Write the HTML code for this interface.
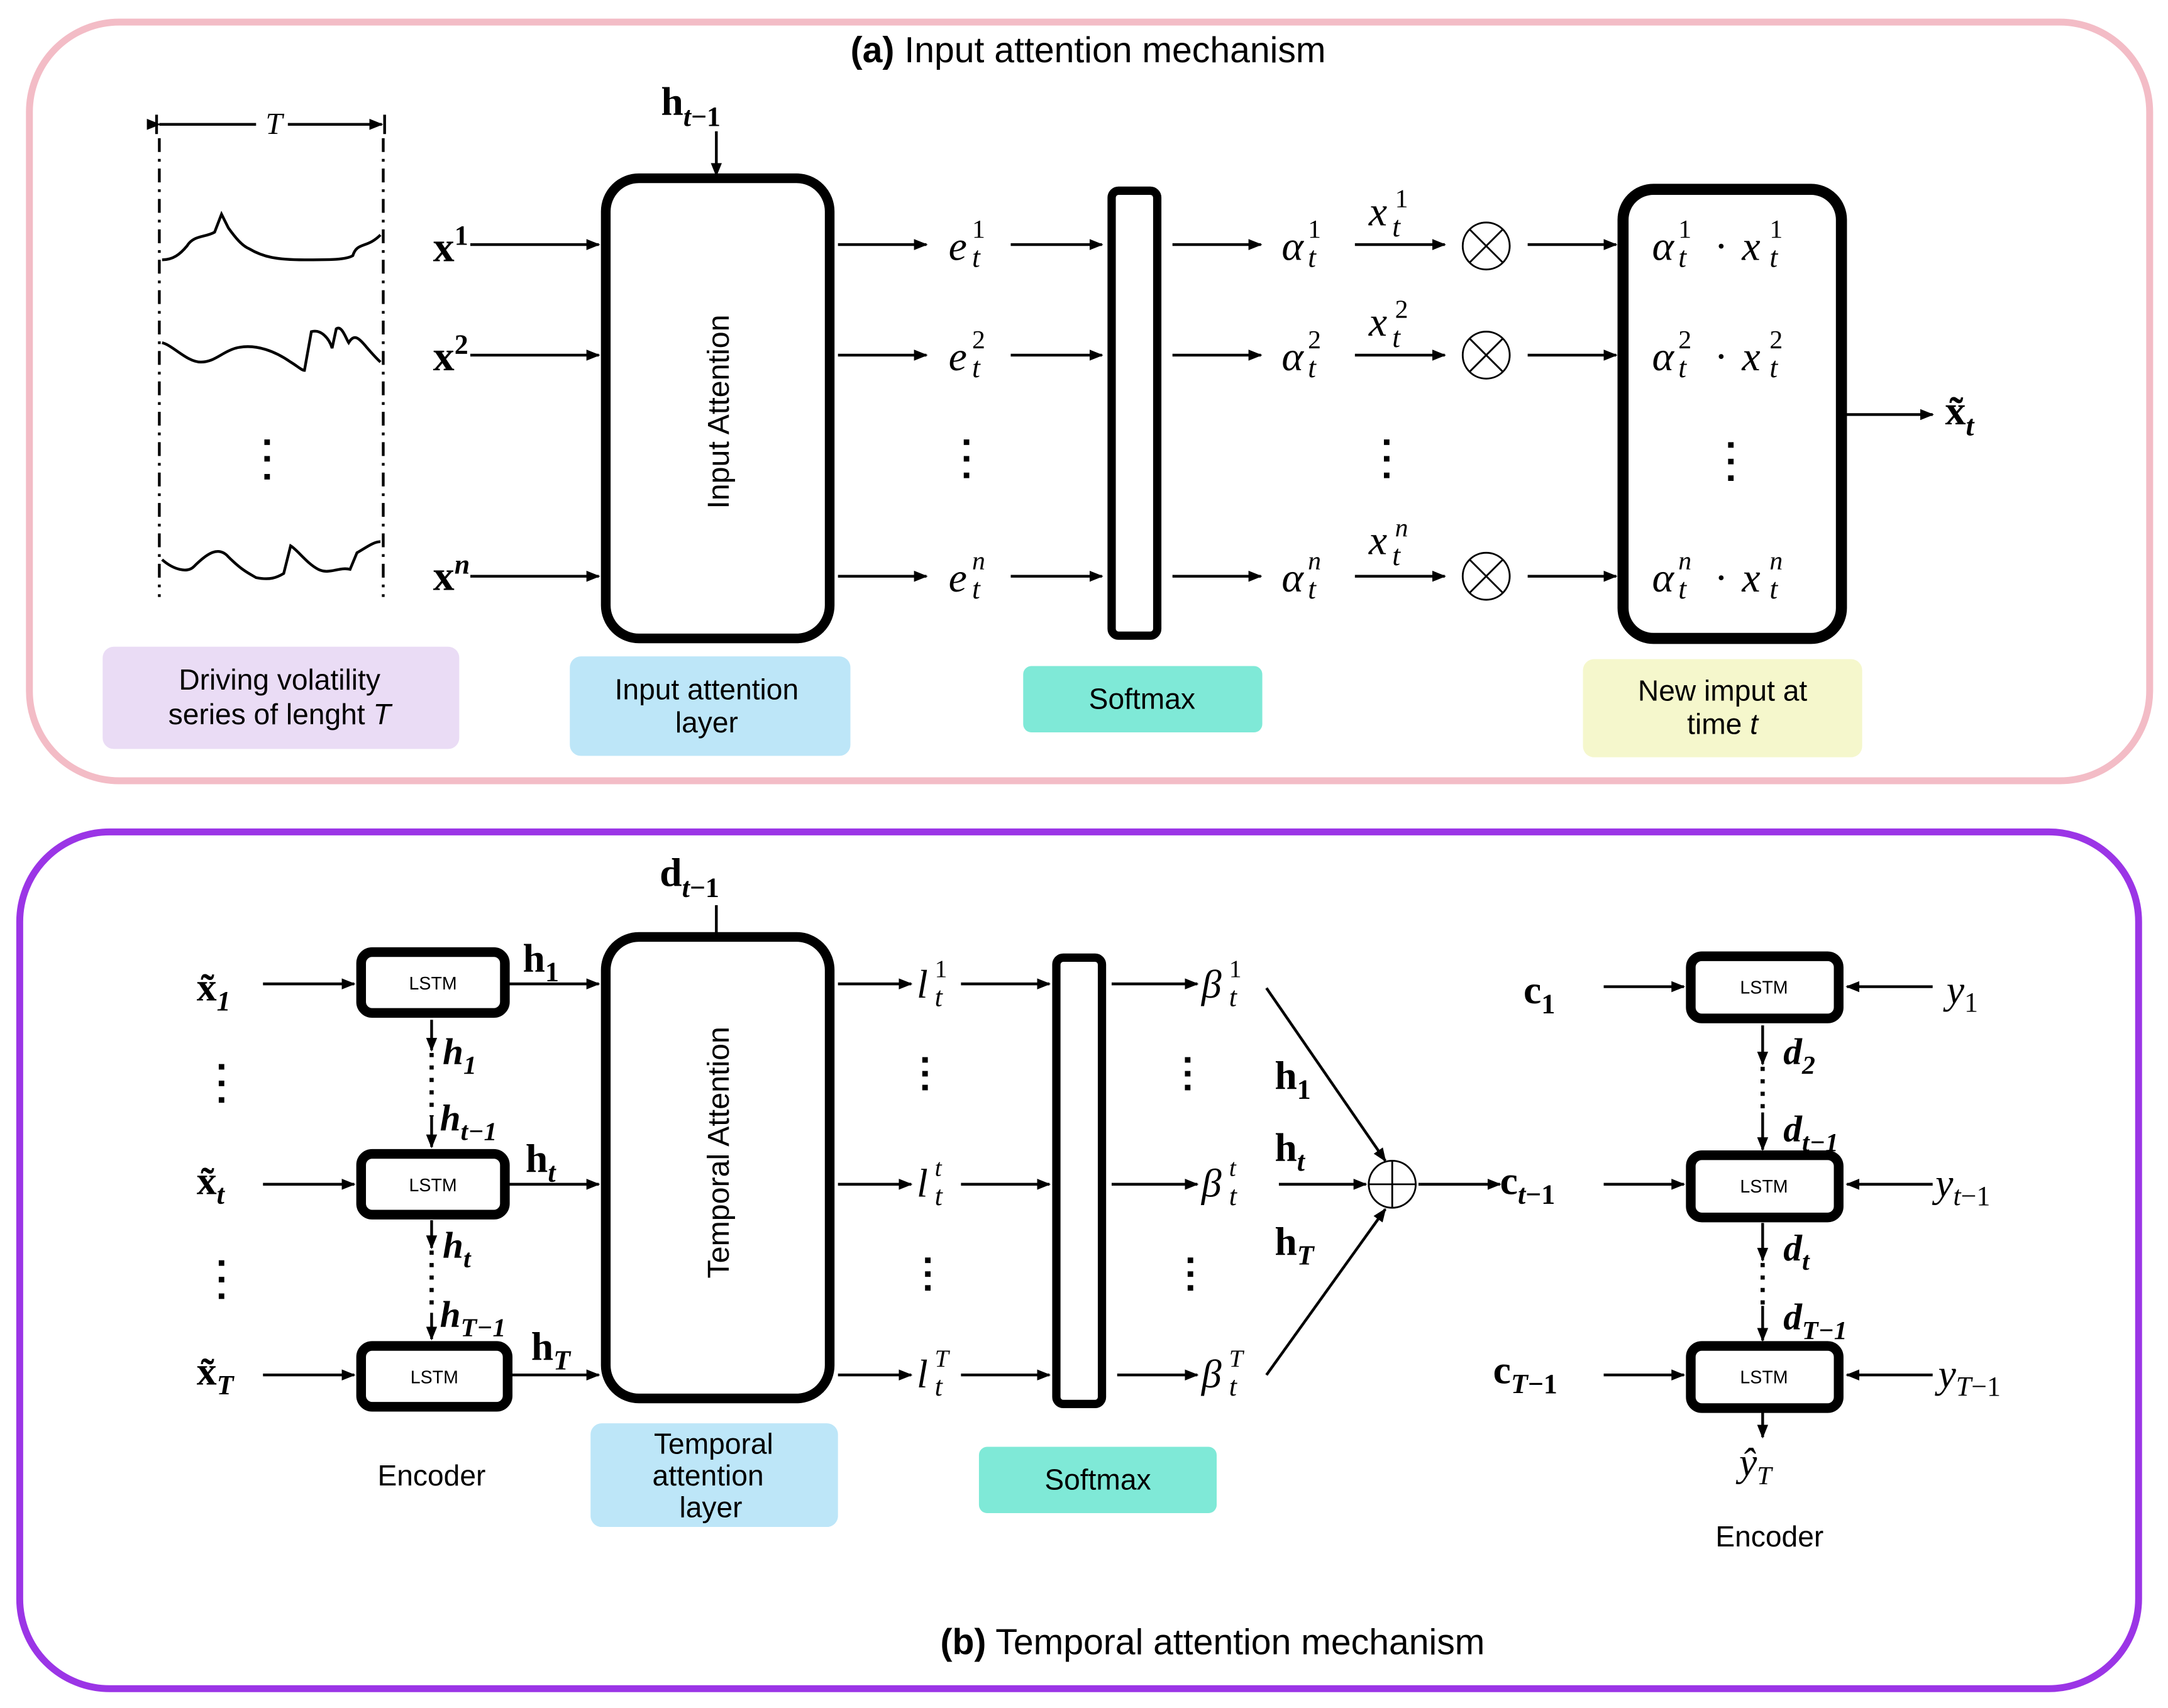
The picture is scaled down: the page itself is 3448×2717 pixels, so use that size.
<!DOCTYPE html>
<html><head><meta charset="utf-8"><style>
html,body{margin:0;padding:0;background:#fff}
svg{display:block}
.s{font-family:"Liberation Sans",sans-serif}
.m{font-family:"Liberation Serif",serif;font-style:italic}
.b{font-family:"Liberation Serif",serif;font-weight:bold}
</style></head><body>
<svg width="3448" height="2717" viewBox="0 0 1568 1236" xmlns="http://www.w3.org/2000/svg">
<defs>
<marker id="a" viewBox="0 0 10 10" refX="9" refY="5" markerWidth="5" markerHeight="5" orient="auto"><path d="M0,1 L10,5 L0,9 z" fill="#000"/></marker>
</defs>
<rect width="1568" height="1236" fill="#fff"/>
<!-- Panel a -->
<rect x="21" y="16" width="1534" height="549" rx="65" fill="#fff" stroke="#f3bcc6" stroke-width="5"/>
<text x="787" y="45" text-anchor="middle" class="s" font-size="26"><tspan font-weight="bold">(a)</tspan> Input attention mechanism</text>

<g stroke="#000" fill="none" stroke-width="2">
<line x1="115" y1="90" x2="185" y2="90" marker-start="url(#a)"/>
<line x1="208" y1="90" x2="276" y2="90" marker-end="url(#a)"/>
<line x1="113" y1="83" x2="113" y2="97"/><line x1="278" y1="83" x2="278" y2="97"/>
<line x1="115" y1="100" x2="115" y2="432" stroke-dasharray="10,5,2,5"/>
<line x1="277" y1="100" x2="277" y2="432" stroke-dasharray="10,5,2,5"/>
<path d="M117,188 C125,188 130,184 135,178 C140,170 148,172 155,168 L160,155 L165,165 C170,172 175,178 180,180 C190,186 200,188 220,188 C240,188 250,188 255,185 C258,175 265,180 275,170"/>
<path d="M117,248 C125,250 135,262 145,262 C155,262 160,255 170,252 C185,248 200,255 210,262 C215,265 218,268 220,268 L225,240 C232,238 238,245 240,252 L243,238 C247,235 250,245 252,248 C258,238 262,250 275,262"/>
<path d="M117,405 C125,412 135,415 140,410 C150,400 158,395 165,403 C175,413 180,415 185,418 C195,420 200,418 205,415 L210,395 C215,398 222,408 230,412 C238,416 245,410 253,412 L258,400 C265,396 270,392 275,392"/>
</g>
<text x="198" y="97" class="m" font-size="22" text-anchor="middle">T</text>
<g fill="#000"><rect x="191" y="318" width="4" height="4"/><rect x="191" y="330" width="4" height="4"/><rect x="191" y="343" width="4" height="4"/></g>

<text x="313" y="189" class="b" font-size="31">x<tspan dy="-12" font-size="20">1</tspan></text>
<text x="313" y="268" class="b" font-size="31">x<tspan dy="-12" font-size="20">2</tspan></text>
<text x="313" y="427" class="b" font-size="31">x<tspan dy="-12" font-size="20" font-style="italic">n</tspan></text>
<g stroke="#000" stroke-width="2" marker-end="url(#a)">
<line x1="340" y1="177" x2="433" y2="177"/><line x1="340" y1="257" x2="433" y2="257"/><line x1="340" y1="417" x2="433" y2="417"/>
<line x1="518" y1="95" x2="518" y2="127"/>
</g>
<text x="478" y="83" class="b" font-size="29">h<tspan dy="8" font-size="20" font-style="italic">t</tspan><tspan font-size="20">−1</tspan></text>
<rect x="438" y="129" width="162" height="333" rx="24" fill="#fff" stroke="#000" stroke-width="7"/>
<text transform="translate(527,298) rotate(-90)" text-anchor="middle" class="s" font-size="22">Input Attention</text>
<rect x="804" y="138" width="33" height="322" rx="5" fill="#fff" stroke="#000" stroke-width="6"/>
<rect x="1174" y="137" width="158" height="325" rx="22" fill="#fff" stroke="#000" stroke-width="8"/>

<g stroke="#000" stroke-width="2" marker-end="url(#a)">
<line x1="606" y1="177" x2="670" y2="177"/><line x1="606" y1="257" x2="670" y2="257"/><line x1="606" y1="417" x2="670" y2="417"/>
<line x1="731" y1="177" x2="797" y2="177"/><line x1="731" y1="257" x2="797" y2="257"/><line x1="731" y1="417" x2="797" y2="417"/>
<line x1="848" y1="177" x2="912" y2="177"/><line x1="848" y1="257" x2="912" y2="257"/><line x1="848" y1="417" x2="912" y2="417"/>
<line x1="980" y1="177" x2="1045" y2="177"/><line x1="980" y1="257" x2="1045" y2="257"/><line x1="980" y1="417" x2="1045" y2="417"/>
<line x1="1105" y1="177" x2="1169" y2="177"/><line x1="1105" y1="257" x2="1169" y2="257"/><line x1="1105" y1="417" x2="1169" y2="417"/>
<line x1="1335" y1="300" x2="1398" y2="300"/>
</g>
<g class="m" font-size="30">
<text x="686" y="188">e</text><text x="703" y="172" font-size="19" font-style="normal">1</text><text x="703" y="193" font-size="21">t</text>
<text x="686" y="268">e</text><text x="703" y="252" font-size="19" font-style="normal">2</text><text x="703" y="273" font-size="21">t</text>
<text x="686" y="428">e</text><text x="703" y="412" font-size="19">n</text><text x="703" y="433" font-size="21">t</text>
<text x="927" y="188">α</text><text x="946" y="172" font-size="19" font-style="normal">1</text><text x="946" y="193" font-size="21">t</text>
<text x="927" y="268">α</text><text x="946" y="252" font-size="19" font-style="normal">2</text><text x="946" y="273" font-size="21">t</text>
<text x="927" y="428">α</text><text x="946" y="412" font-size="19">n</text><text x="946" y="433" font-size="21">t</text>
<text x="990" y="163">x</text><text x="1009" y="150" font-size="19" font-style="normal">1</text><text x="1007" y="171" font-size="21">t</text>
<text x="990" y="243">x</text><text x="1009" y="230" font-size="19" font-style="normal">2</text><text x="1007" y="251" font-size="21">t</text>
<text x="990" y="401">x</text><text x="1009" y="388" font-size="19">n</text><text x="1007" y="409" font-size="21">t</text>
<text x="1195" y="188">α</text><text x="1214" y="172" font-size="19" font-style="normal">1</text><text x="1214" y="193" font-size="21">t</text><text x="1240" y="188" font-style="normal">·</text><text x="1260" y="188">x</text><text x="1280" y="172" font-size="19" font-style="normal">1</text><text x="1280" y="193" font-size="21">t</text>
<text x="1195" y="268">α</text><text x="1214" y="252" font-size="19" font-style="normal">2</text><text x="1214" y="273" font-size="21">t</text><text x="1240" y="268" font-style="normal">·</text><text x="1260" y="268">x</text><text x="1280" y="252" font-size="19" font-style="normal">2</text><text x="1280" y="273" font-size="21">t</text>
<text x="1195" y="428">α</text><text x="1214" y="412" font-size="19">n</text><text x="1214" y="433" font-size="21">t</text><text x="1240" y="428" font-style="normal">·</text><text x="1260" y="428">x</text><text x="1280" y="412" font-size="19">n</text><text x="1280" y="433" font-size="21">t</text>
</g>
<text x="1407" y="307" class="b" font-size="30">x̃<tspan dy="8" font-size="21" font-style="italic">t</tspan></text>
<g fill="none" stroke="#000" stroke-width="1.3">
<circle cx="1075" cy="178" r="17"/><path d="M1063,166 L1087,190 M1087,166 L1063,190"/>
<circle cx="1075" cy="257" r="17"/><path d="M1063,245 L1087,269 M1087,245 L1063,269"/>
<circle cx="1075" cy="417" r="17"/><path d="M1063,405 L1087,429 M1087,405 L1063,429"/>
</g>
<g fill="#000">
<rect x="697" y="318" width="4" height="4"/><rect x="697" y="330" width="4" height="4"/><rect x="697" y="342" width="4" height="4"/>
<rect x="1001" y="318" width="4" height="4"/><rect x="1001" y="330" width="4" height="4"/><rect x="1001" y="342" width="4" height="4"/>
<rect x="1250" y="320" width="4" height="4"/><rect x="1250" y="332" width="4" height="4"/><rect x="1250" y="344" width="4" height="4"/>
</g>
<g class="s" font-size="21" text-anchor="middle">
<rect x="74" y="468" width="258" height="74" rx="8" fill="#eadcf5"/>
<text x="202" y="499">Driving volatility</text><text x="202" y="524">series of lenght <tspan font-style="italic">T</tspan></text>
<rect x="412" y="475" width="203" height="72" rx="8" fill="#bde6f8"/>
<text x="511" y="506">Input attention</text><text x="511" y="530">layer</text>
<rect x="740" y="482" width="173" height="48" rx="6" fill="#7fe9d7"/>
<text x="826" y="513">Softmax</text>
<rect x="1145" y="477" width="202" height="71" rx="8" fill="#f5f7cc"/>
<text x="1246" y="507">New imput at</text><text x="1246" y="531">time <tspan font-style="italic">t</tspan></text>
</g>

<!-- Panel b -->
<rect x="14" y="602" width="1533" height="620" rx="65" fill="#fff" stroke="#9b35e6" stroke-width="5"/>
<text x="877" y="1197" text-anchor="middle" class="s" font-size="26"><tspan font-weight="bold">(b)</tspan> Temporal attention mechanism</text>

<g class="b" font-size="29">
<text x="142" y="724">x̃<tspan dy="7" font-size="20" font-style="italic">1</tspan></text>
<text x="142" y="864">x̃<tspan dy="7" font-size="20" font-style="italic">t</tspan></text>
<text x="142" y="1002">x̃<tspan dy="7" font-size="20" font-style="italic">T</tspan></text>
<text x="378" y="703">h<tspan dy="7" font-size="20">1</tspan></text>
<text x="380" y="848">h<tspan dy="7" font-size="20" font-style="italic">t</tspan></text>
<text x="384" y="984">h<tspan dy="7" font-size="20" font-style="italic">T</tspan></text>
<text x="477" y="641">d<tspan dy="8" font-size="20" font-style="italic">t</tspan><tspan font-size="20">−1</tspan></text>
<text x="922" y="788">h<tspan dy="7" font-size="20">1</tspan></text>
<text x="922" y="840">h<tspan dy="7" font-size="20" font-style="italic">t</tspan></text>
<text x="922" y="908">h<tspan dy="7" font-size="20" font-style="italic">T</tspan></text>
<text x="1102" y="726">c<tspan dy="7" font-size="20">1</tspan></text>
<text x="1085" y="864">c<tspan dy="7" font-size="20" font-style="italic">t</tspan><tspan font-size="20">−1</tspan></text>
<text x="1080" y="1001">c<tspan dy="7" font-size="20" font-style="italic">T</tspan><tspan font-size="20">−1</tspan></text>
</g>
<g class="m" font-size="27" font-weight="bold">
<text x="320" y="770">h<tspan dy="7" font-size="19">1</tspan></text>
<text x="318" y="818">h<tspan dy="7" font-size="19">t−1</tspan></text>
<text x="320" y="910">h<tspan dy="7" font-size="19">t</tspan></text>
<text x="318" y="960">h<tspan dy="7" font-size="19">T−1</tspan></text>
<text x="1290" y="770">d<tspan dy="7" font-size="19">2</tspan></text>
<text x="1290" y="826">d<tspan dy="7" font-size="19">t−1</tspan></text>
<text x="1290" y="912">d<tspan dy="7" font-size="19">t</tspan></text>
<text x="1290" y="962">d<tspan dy="7" font-size="19">T−1</tspan></text>
</g>
<g class="m" font-size="29">
<text x="663" y="722">l</text><text x="676" y="707" font-size="18" font-style="normal">1</text><text x="676" y="728" font-size="20">t</text>
<text x="663" y="866">l</text><text x="676" y="851" font-size="18">t</text><text x="676" y="872" font-size="20">t</text>
<text x="663" y="1004">l</text><text x="676" y="989" font-size="18">T</text><text x="676" y="1010" font-size="20">t</text>
<text x="869" y="722">β</text><text x="889" y="707" font-size="18" font-style="normal">1</text><text x="889" y="728" font-size="20">t</text>
<text x="869" y="866">β</text><text x="889" y="851" font-size="18">t</text><text x="889" y="872" font-size="20">t</text>
<text x="869" y="1004">β</text><text x="889" y="989" font-size="18">T</text><text x="889" y="1010" font-size="20">t</text>
<text x="1408" y="726">y<tspan dy="6" font-size="20" font-style="normal">1</tspan></text>
<text x="1400" y="866">y<tspan dy="6" font-size="20">t</tspan><tspan font-size="20" font-style="normal">−1</tspan></text>
<text x="1402" y="1004">y<tspan dy="6" font-size="20">T</tspan><tspan font-size="20" font-style="normal">−1</tspan></text>
<text x="1258" y="1068">ŷ<tspan dy="6" font-size="19">T</tspan></text>
</g>

<g stroke="#000" stroke-width="2" marker-end="url(#a)">
<line x1="190" y1="712" x2="256" y2="712"/><line x1="190" y1="857" x2="256" y2="857"/><line x1="190" y1="995" x2="256" y2="995"/>
<line x1="368" y1="712" x2="433" y2="712"/><line x1="368" y1="857" x2="433" y2="857"/><line x1="368" y1="995" x2="433" y2="995"/>
<line x1="606" y1="712" x2="659" y2="712"/><line x1="606" y1="857" x2="659" y2="857"/><line x1="606" y1="995" x2="659" y2="995"/>
<line x1="695" y1="712" x2="759" y2="712"/><line x1="695" y1="857" x2="759" y2="857"/><line x1="695" y1="995" x2="759" y2="995"/>
<line x1="804" y1="712" x2="866" y2="712"/><line x1="804" y1="857" x2="866" y2="857"/><line x1="808" y1="995" x2="866" y2="995"/>
<line x1="916" y1="715" x2="1002" y2="840"/><line x1="916" y1="995" x2="1002" y2="875"/><line x1="925" y1="857" x2="988" y2="857"/>
<line x1="1026" y1="857" x2="1085" y2="857"/>
<line x1="1160" y1="714" x2="1218" y2="714"/><line x1="1160" y1="857" x2="1218" y2="857"/><line x1="1160" y1="995" x2="1218" y2="995"/>
<line x1="1398" y1="714" x2="1336" y2="714"/><line x1="1398" y1="857" x2="1336" y2="857"/><line x1="1398" y1="995" x2="1336" y2="995"/>
<line x1="312" y1="738" x2="312" y2="760"/><line x1="312" y1="808" x2="312" y2="830"/>
<line x1="312" y1="883" x2="312" y2="903"/><line x1="312" y1="950" x2="312" y2="969"/>
<line x1="1275" y1="742" x2="1275" y2="770"/><line x1="1275" y1="805" x2="1275" y2="832"/>
<line x1="1275" y1="885" x2="1275" y2="912"/><line x1="1275" y1="945" x2="1275" y2="970"/>
<line x1="1275" y1="1021" x2="1275" y2="1040"/>
<line x1="518" y1="655" x2="518" y2="676" marker-end="none"/>
</g>
<g stroke="#000" stroke-width="3" stroke-dasharray="3,6">
<line x1="312" y1="762" x2="312" y2="808"/><line x1="312" y1="905" x2="312" y2="950"/>
<line x1="1275" y1="772" x2="1275" y2="805"/><line x1="1275" y1="914" x2="1275" y2="945"/>
</g>
<rect x="438" y="678" width="162" height="334" rx="24" fill="#fff" stroke="#000" stroke-width="7"/>
<text transform="translate(527,834) rotate(-90)" text-anchor="middle" class="s" font-size="22">Temporal Attention</text>
<rect x="764" y="693" width="33" height="323" rx="5" fill="#fff" stroke="#000" stroke-width="6"/>
<g fill="#fff" stroke="#000" stroke-width="7">
<rect x="261" y="689" width="104" height="44" rx="8"/><rect x="261" y="835" width="104" height="44" rx="8"/><rect x="261" y="974" width="106" height="44" rx="8"/>
<rect x="1223" y="692" width="107" height="45" rx="8"/><rect x="1223" y="836" width="107" height="45" rx="8"/><rect x="1223" y="974" width="107" height="45" rx="8"/>
</g>
<g class="s" font-size="13" text-anchor="middle">
<text x="313" y="716">LSTM</text><text x="313" y="862">LSTM</text><text x="314" y="1001">LSTM</text>
<text x="1276" y="719">LSTM</text><text x="1276" y="863">LSTM</text><text x="1276" y="1001">LSTM</text>
</g>
<g fill="none" stroke="#000" stroke-width="1.3">
<circle cx="1007" cy="857" r="17"/><path d="M990,857 L1024,857 M1007,840 L1007,874"/>
</g>
<g fill="#000">
<rect x="158" y="770" width="4" height="4"/><rect x="158" y="782" width="4" height="4"/><rect x="158" y="794" width="4" height="4"/>
<rect x="158" y="912" width="4" height="4"/><rect x="158" y="924" width="4" height="4"/><rect x="158" y="936" width="4" height="4"/>
<rect x="667" y="765" width="4" height="4"/><rect x="667" y="775" width="4" height="4"/><rect x="667" y="785" width="4" height="4"/>
<rect x="669" y="910" width="4" height="4"/><rect x="669" y="920" width="4" height="4"/><rect x="669" y="930" width="4" height="4"/>
<rect x="857" y="765" width="4" height="4"/><rect x="857" y="775" width="4" height="4"/><rect x="857" y="785" width="4" height="4"/>
<rect x="859" y="910" width="4" height="4"/><rect x="859" y="920" width="4" height="4"/><rect x="859" y="930" width="4" height="4"/>
</g>
<g class="s" font-size="21" text-anchor="middle">
<text x="312" y="1075">Encoder</text>
<text x="1280" y="1119">Encoder</text>
<rect x="427" y="1030" width="179" height="75" rx="8" fill="#bde6f8"/>
<text x="516" y="1052">Temporal</text><text x="512" y="1075">attention</text><text x="514" y="1098">layer</text>
<rect x="708" y="1047" width="172" height="48" rx="6" fill="#7fe9d7"/>
<text x="794" y="1078">Softmax</text>
</g>
</svg>
</body></html>
